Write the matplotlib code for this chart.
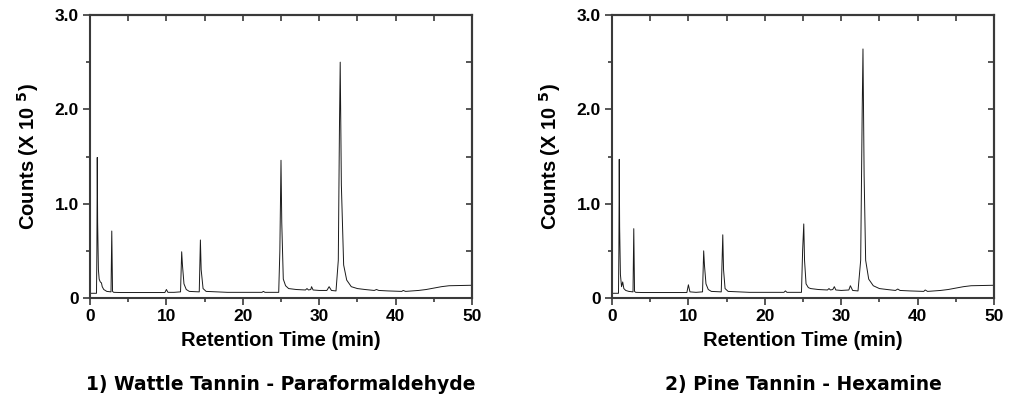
import numpy as np
import matplotlib
matplotlib.use("Agg")
import matplotlib.pyplot as plt
from matplotlib.ticker import MultipleLocator

# traced chromatogram points (retention time in min, counts x 1e5)
wattle_t = [0, 0.85, 0.9, 0.95, 1.0, 1.1, 1.2, 1.35, 1.5, 1.6, 1.8, 2.2,
            2.75, 2.85, 2.95, 3.1, 4, 8, 9.8, 10.0, 10.2, 11, 11.85, 12.0,
            12.1, 12.3, 12.6, 13, 14.3, 14.45, 14.55, 14.8, 15.2, 18, 22.5,
            22.7, 22.9, 24.7, 24.85, 25.0, 25.1, 25.3, 25.6, 26, 27, 28.2,
            28.4, 28.6, 28.9, 29.0, 29.2, 30, 31.0, 31.3, 31.6, 32.2, 32.5,
            32.65, 32.75, 32.9, 33.2, 33.6, 34.2, 35, 36, 37.2, 37.5, 37.8,
            39, 40.8, 41, 41.3, 43, 44, 45, 46, 47, 50]
wattle_y = [0.05, 0.05, 0.5, 1.49, 0.8, 0.3, 0.2, 0.17, 0.16, 0.12, 0.09, 0.07,
            0.065, 0.71, 0.07, 0.06, 0.058, 0.058, 0.058, 0.09, 0.06, 0.06, 0.065, 0.49,
            0.35, 0.15, 0.09, 0.07, 0.065, 0.615, 0.3, 0.1, 0.07, 0.06, 0.06,
            0.07, 0.06, 0.06, 0.5, 1.46, 0.8, 0.2, 0.13, 0.1, 0.09, 0.085,
            0.1, 0.085, 0.09, 0.12, 0.085, 0.08, 0.08, 0.12, 0.08, 0.075, 0.4,
            1.8, 2.50, 1.2, 0.35, 0.19, 0.12, 0.1, 0.09, 0.08, 0.09, 0.08,
            0.075, 0.07, 0.08, 0.07, 0.08, 0.09, 0.105, 0.12, 0.13, 0.135]

pine_t = [0, 0.85, 0.9, 0.95, 1.0, 1.1, 1.25, 1.4, 1.55, 1.8, 2.2,
          2.75, 2.85, 2.95, 3.1, 4, 8, 9.8, 10.0, 10.2, 11, 11.85, 12.0,
          12.1, 12.3, 12.6, 13, 14.3, 14.5, 14.6, 14.8, 15.2, 18, 22.5,
          22.7, 22.9, 24.8, 24.95, 25.1, 25.2, 25.4, 25.7, 26, 27, 28.2,
          28.4, 28.6, 28.9, 29.1, 29.3, 30, 31.0, 31.2, 31.5, 32.2, 32.55,
          32.75, 32.85, 33.0, 33.2, 33.6, 34.2, 35, 36, 37.1, 37.4, 37.7,
          39, 40.8, 41, 41.3, 43, 44, 45, 46, 47, 50]
pine_y = [0.05, 0.05, 0.5, 1.47, 0.75, 0.25, 0.12, 0.17, 0.1, 0.08, 0.07,
          0.065, 0.735, 0.07, 0.06, 0.058, 0.058, 0.058, 0.14, 0.065, 0.06, 0.065, 0.50,
          0.35, 0.15, 0.09, 0.07, 0.065, 0.67, 0.3, 0.1, 0.07, 0.06, 0.06,
          0.075, 0.06, 0.06, 0.5, 0.785, 0.4, 0.15, 0.11, 0.1, 0.09, 0.085,
          0.1, 0.085, 0.09, 0.12, 0.085, 0.08, 0.085, 0.13, 0.08, 0.075, 0.4,
          2.0, 2.64, 1.3, 0.4, 0.2, 0.13, 0.1, 0.09, 0.08, 0.095, 0.08,
          0.075, 0.07, 0.085, 0.07, 0.08, 0.09, 0.105, 0.12, 0.13, 0.135]

panels = [(wattle_t, wattle_y, "1) Wattle Tannin - Paraformaldehyde"),
          (pine_t, pine_y, "2) Pine Tannin - Hexamine")]

x_ticks = [0, 10, 20, 30, 40, 50]
y_ticks = [0, 1, 2, 3]
y_tick_labels = ["0", "1.0", "2.0", "3.0"]

W, H = 1013, 395
fig = plt.figure(figsize=(W / 100, H / 100), dpi=100)
spine_c = "#3a3a3a"
lefts = [90, 612]

for (t, y, caption), left in zip(panels, lefts):
    ax = fig.add_axes([left / W, (H - 298) / H, 382 / W, 283 / H])
    ax.plot(t, y, color="#1a1a1a", lw=0.7)
    ax.set_xlim(0, 50)
    ax.set_ylim(0, 3)
    for s in ax.spines.values():
        s.set_color(spine_c)
        s.set_linewidth(1.5)

    ax.set_xticks(x_ticks)
    ax.set_yticks(y_ticks)
    ax.set_yticklabels(y_tick_labels)
    ax.xaxis.set_minor_locator(MultipleLocator(5))
    ax.yaxis.set_minor_locator(MultipleLocator(0.5))
    ax.tick_params(which="major", direction="out", length=5, width=1.2,
                   color=spine_c, labelsize=12.5, pad=3)
    ax.tick_params(which="minor", direction="out", length=3, width=1.2,
                   color=spine_c)
    for lab in ax.get_xticklabels() + ax.get_yticklabels():
        lab.set_fontfamily("Liberation Sans")
        lab.set_fontweight("bold")

    # inward ticks on top and right
    top = ax.secondary_xaxis("top")
    top.set_xticks(x_ticks)
    top.xaxis.set_minor_locator(MultipleLocator(5))
    top.tick_params(which="both", direction="in", length=4, width=1.2,
                    color=spine_c, labeltop=False)
    right = ax.secondary_yaxis("right")
    right.set_yticks(y_ticks)
    right.yaxis.set_minor_locator(MultipleLocator(0.5))
    right.tick_params(which="both", direction="in", length=4, width=1.2,
                      color=spine_c, labelright=False)
    for sec in (top, right):
        for s in sec.spines.values():
            s.set_color(spine_c)
            s.set_linewidth(1.5)

    ax.set_xlabel("Retention Time (min)", fontsize=14.5, fontweight="bold",
                  family="Liberation Sans", labelpad=5)
    ax.set_ylabel(r"Counts (X 10 $^{\mathbf{5}}$)", fontsize=14.5, fontweight="bold",
                  family="Liberation Sans", labelpad=10)
    ax.text(0.5, -0.305, caption, transform=ax.transAxes, ha="center",
            va="center", fontsize=13.5, fontweight="bold", family="DejaVu Sans")

fig.savefig("out.png", dpi=100)
